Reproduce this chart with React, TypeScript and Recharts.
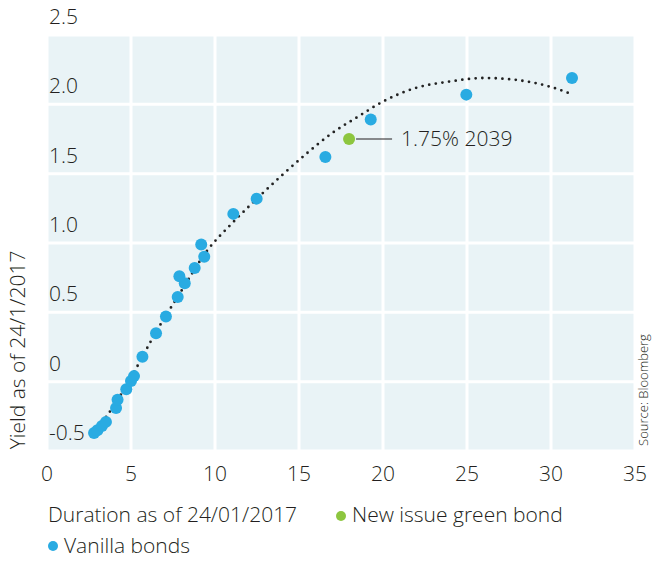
import React from 'react';
import { ComposedChart, Scatter, Line, XAxis, YAxis, CartesianGrid } from 'recharts';

// Vanilla bonds: duration (years) and yield (%)
const vanillaDuration = [2.8, 3.0, 3.27, 3.51, 4.11, 4.2, 4.72, 5.0, 5.18, 5.68, 6.49, 7.08, 7.78, 8.2, 7.88, 8.79, 9.36, 9.18, 11.09, 12.48, 16.57, 19.27, 24.96, 31.25];
const vanillaYield = [-0.37, -0.35, -0.32, -0.29, -0.19, -0.13, -0.055, 0.005, 0.04, 0.18, 0.35, 0.47, 0.61, 0.71, 0.76, 0.82, 0.9, 0.99, 1.21, 1.32, 1.62, 1.89, 2.07, 2.19];

// New issue green bond
const greenDuration = [17.98];
const greenYield = [1.75];

// Dotted trend line
const trendDuration = [2.8, 4.0, 5.0, 6.5, 8.0, 9.5, 11, 12.5, 14, 15.5, 17, 18.5, 20, 22, 24, 26, 28, 30, 31.2];
const trendYield = [-0.37, -0.17, 0.03, 0.36, 0.655, 0.94, 1.14, 1.32, 1.49, 1.65, 1.795, 1.91, 2.02, 2.12, 2.165, 2.19, 2.175, 2.125, 2.075];

const xTicks = [0, 5, 10, 15, 20, 25, 30, 35];
const yTicks = [-0.5, 0, 0.5, 1, 1.5, 2, 2.5];
const yTickLabels = ['-0.5', '0', '0.5', '1.0', '1.5', '2.0', '2.5'];

const zip = (xs: number[], ys: number[]) => xs.map((x, i) => ({ x, y: ys[i] }));

const vanilla = zip(vanillaDuration, vanillaYield);
const green = zip(greenDuration, greenYield);
const trend = zip(trendDuration, trendYield);

const FONT = '"Open Sans", sans-serif';
const TEXT = '#231f20';
const BLUE = '#29abe2';
const GREEN = '#8dc63f';
const FS = 21;

const W = 653;
const H = 561;
const PLOT_LEFT = 47;
const PLOT_TOP = 35;
const PLOT_RIGHT = 635;
const PLOT_BOTTOM = 451;

const XTick = (props: any) => {
  const { x, payload } = props;
  return (
    <text x={x} y={PLOT_BOTTOM + 30} textAnchor="middle" fontSize={FS} fontFamily={FONT} fontWeight={300} fill={TEXT}>
      {payload.value}
    </text>
  );
};

const YTick = (props: any) => {
  const { y, payload } = props;
  const i = yTicks.indexOf(payload.value);
  return (
    <text x={PLOT_LEFT + 2} y={y - 11} textAnchor="start" fontSize={FS} fontFamily={FONT} fontWeight={300} fill={TEXT}>
      {yTickLabels[i]}
    </text>
  );
};

const GreenDot = (props: any) => {
  const { cx, cy } = props;
  return (
    <g>
      <circle cx={cx} cy={cy} r={6} fill={GREEN} />
      <line x1={cx + 7} y1={cy} x2={cx + 43} y2={cy} stroke={TEXT} strokeWidth={1.2} />
      <text x={cx + 52} y={cy + 7} fontSize={FS} fontFamily={FONT} fontWeight={300} fill={TEXT}>
        1.75% 2039
      </text>
    </g>
  );
};

const BlueDot = (props: any) => <circle cx={props.cx} cy={props.cy} r={6} fill={BLUE} />;

export default function App() {
  return (
    <div style={{ position: 'absolute', left: 0, top: 0, width: W, height: H, background: '#fff' }}>
      <ComposedChart
        width={W}
        height={H}
        margin={{ top: PLOT_TOP, right: W - PLOT_RIGHT, left: PLOT_LEFT, bottom: H - PLOT_BOTTOM - 30 }}
      >
        <CartesianGrid fill="#e9f3f6" stroke="#ffffff" strokeWidth={3} horizontalValues={yTicks} verticalValues={xTicks} />
        <XAxis
          type="number"
          dataKey="x"
          domain={[0, 35]}
          ticks={xTicks}
          height={30}
          axisLine={false}
          tickLine={false}
          tick={<XTick />}
          interval={0}
        />
        <YAxis
          type="number"
          dataKey="y"
          domain={[-0.5, 2.5]}
          ticks={yTicks}
          width={60}
          mirror
          axisLine={false}
          tickLine={false}
          tick={<YTick />}
          interval={0}
        />
        <Scatter data={vanilla} fill={BLUE} shape={<BlueDot />} isAnimationActive={false} />
        <Scatter data={green} fill={GREEN} shape={<GreenDot />} isAnimationActive={false} />
        <Line
          data={trend}
          dataKey="y"
          type="monotone"
          stroke="#222"
          strokeWidth={2.8}
          strokeLinecap="round"
          strokeDasharray="0 6.7"
          dot={false}
          activeDot={false}
          isAnimationActive={false}
        />
      </ComposedChart>
      <svg width={W} height={H} style={{ position: 'absolute', left: 0, top: 0, pointerEvents: 'none' }}>
        <g fontFamily={FONT} fontWeight={300} fill={TEXT}>
          <text transform="translate(25 350) rotate(-90)" textAnchor="middle" fontSize={FS}>
            Yield as of 24/1/2017
          </text>
          <text transform="translate(648 390) rotate(-90)" textAnchor="middle" fontSize={13}>
            Source: Bloomberg
          </text>
          <text x={48} y={522} fontSize={FS}>Duration as of 24/01/2017</text>
          <circle cx={341} cy={516} r={5} fill={GREEN} />
          <text x={352} y={522} fontSize={FS}>New issue green bond</text>
          <circle cx={53} cy={546} r={5} fill={BLUE} />
          <text x={64} y={553} fontSize={FS}>Vanilla bonds</text>
        </g>
      </svg>
    </div>
  );
}
